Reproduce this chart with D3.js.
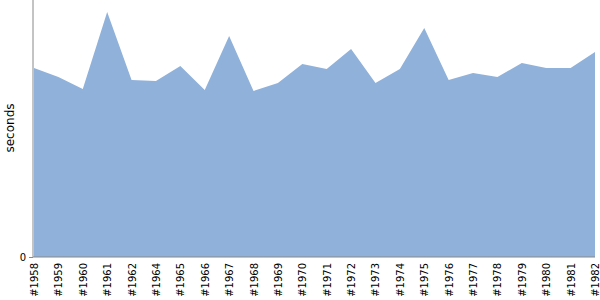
<!DOCTYPE html>
<html>
<head>
<meta charset="utf-8">
<script src="https://cdn.jsdelivr.net/npm/d3@7"></script>
<style>
  body { margin: 0; background: #fff; }
  text { font-family: "DejaVu Sans", sans-serif; }
</style>
</head>
<body>
<svg width="600" height="300"></svg>
<script>
// categories (no #1963 in the source)
const years = ["#1958", "#1959", "#1960", "#1961", "#1962", "#1964", "#1965", "#1966",
	"#1967", "#1968", "#1969", "#1970", "#1971", "#1972", "#1973", "#1974", "#1975",
	"#1976", "#1977", "#1978", "#1979", "#1980", "#1981", "#1982"]

const seconds = [189, 180, 168, 245, 177, 176, 191, 167, 221, 166, 174, 193, 188,
	208, 174, 188, 229, 177, 184, 180, 194, 189, 189, 205]

const yTicks = [0]

const svg = d3.select("svg")
const margin = { top: 0, right: 5, bottom: 43, left: 33 }
const width = +svg.attr("width"), height = +svg.attr("height")

const x = d3.scalePoint()
	.domain(years)
	.range([margin.left + 1, width - margin.right])

const y = d3.scaleLinear()
	.domain([0, 257])
	.range([height - margin.bottom, margin.top])

const data = years.map((d, i) => ({ year: d, value: seconds[i] }))

const area = d3.area()
	.x(d => x(d.year))
	.y0(y(0))
	.y1(d => y(d.value))

svg.append("path")
	.datum(data)
	.attr("fill", "#8fb1da")
	.attr("d", area)

// x axis
const gx = svg.append("g")
	.attr("transform", "translate(0," + y(0) + ")")
	.call(d3.axisBottom(x).tickSize(0).tickPadding(6))
gx.select(".domain")
	.attr("d", "M" + margin.left + ",0H" + (x(years[years.length - 1])))
	.attr("stroke", "#888")
gx.selectAll("text")
	.attr("font-size", 10)
	.attr("font-family", "DejaVu Sans")
	.attr("fill", "#000")
	.attr("transform", "rotate(-90)")
	.attr("text-anchor", "end")
	.attr("x", -6)
	.attr("y", 0)
	.attr("dy", "0.35em")

// y axis
const gy = svg.append("g")
	.attr("transform", "translate(" + margin.left + ",0)")
	.call(d3.axisLeft(y).tickValues(yTicks).tickSize(4).tickPadding(3))
gy.select(".domain")
	.attr("d", "M0," + y(0) + "V0")
	.attr("stroke", "#888")
gy.selectAll(".tick line").attr("stroke", "#888")
gy.selectAll("text")
	.attr("font-size", 10)
	.attr("font-family", "DejaVu Sans")
	.attr("fill", "#000")

svg.append("text")
	.attr("transform", "translate(14," + 128 + ") rotate(-90)")
	.attr("text-anchor", "middle")
	.attr("font-size", 12)
	.attr("fill", "#000")
	.text("seconds")
</script>
</body>
</html>
